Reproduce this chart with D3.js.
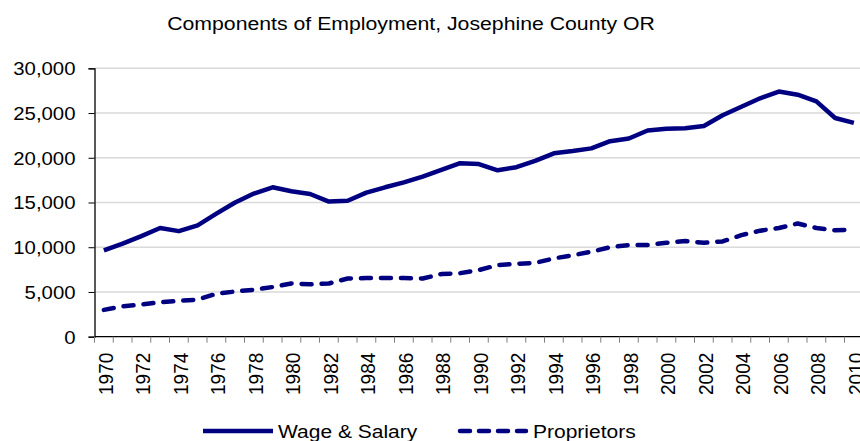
<!DOCTYPE html>
<html>
<head>
<meta charset="utf-8">
<script src="https://cdn.jsdelivr.net/npm/d3@7"></script>
<style>
  html, body { margin: 0; padding: 0; background: #fff; }
  svg { display: block; font-family: "Liberation Sans", Arial, sans-serif; }
</style>
</head>
<body>
<svg id="chart" width="860" height="441"></svg>
<script>
const title = "Components of Employment, Josephine County OR";
const years = ["1970","1971","1972","1973","1974","1975","1976","1977","1978","1979",
  "1980","1981","1982","1983","1984","1985","1986","1987","1988","1989",
  "1990","1991","1992","1993","1994","1995","1996","1997","1998","1999",
  "2000","2001","2002","2003","2004","2005","2006","2007","2008","2009","2010"];
const wageSalary = [9650, 10400, 11250, 12150, 11800, 12450, 13750, 15000, 16000, 16700,
  16250, 15950, 15100, 15200, 16100, 16700, 17250, 17900, 18650, 19400,
  19300, 18600, 18950, 19650, 20500, 20750, 21050, 21850, 22150, 23050,
  23250, 23300, 23550, 24750, 25700, 26650, 27400, 27050, 26300, 24450, 23900];
const proprietors = [3000, 3400, 3600, 3850, 4000, 4150, 4800, 5050, 5250, 5550,
  5950, 5850, 5950, 6500, 6550, 6550, 6550, 6500, 7000, 7100,
  7450, 8000, 8150, 8250, 8750, 9100, 9500, 10000, 10250, 10250,
  10500, 10700, 10500, 10650, 11350, 11850, 12150, 12650, 12150, 11900, 11950];
const yTicks = [0, 5000, 10000, 15000, 20000, 25000, 30000];
const xLabelYears = years.filter((d, i) => i % 2 === 0);
const seriesNames = ["Wage & Salary", "Proprietors"];

const svg = d3.select("#chart");
const navy = "#000080";
const mLeft = 94.5, mTop = 68.3, mBottom = 336.7, band = 18.75;

const x = d3.scaleBand().domain(years).range([mLeft, mLeft + years.length * band]);
const y = d3.scaleLinear().domain([0, 30000]).range([mBottom, mTop]);

function stretch(sel, f) {
  sel.each(function() {
    const w = this.getComputedTextLength();
    d3.select(this).attr("textLength", w * f).attr("lengthAdjust", "spacingAndGlyphs");
  });
}

// gridlines
svg.append("g").selectAll("line").data(yTicks.filter(d => d > 0)).join("line")
  .attr("x1", mLeft).attr("x2", 860)
  .attr("y1", d => y(d)).attr("y2", d => y(d))
  .attr("stroke", "#d9d9d9").attr("stroke-width", 1.5);

// y axis
const yAxis = svg.append("g").attr("transform", `translate(${mLeft},0)`)
  .call(d3.axisLeft(y).tickValues(yTicks).tickFormat(d3.format(",")).tickSize(6).tickPadding(13));
yAxis.select(".domain").attr("stroke", "#000").attr("stroke-width", 1.3);
yAxis.selectAll(".tick line").attr("stroke", "#000");
yAxis.selectAll(".tick text").attr("font-size", 18).attr("fill", "#000")
  .attr("font-family", "Liberation Sans, Arial, sans-serif")
  .attr("dy", "0.36em").call(stretch, 1.13);

// x axis: ticks at band boundaries
const xg = svg.append("g");
xg.append("line").attr("x1", mLeft).attr("x2", 860).attr("y1", mBottom).attr("y2", mBottom)
  .attr("stroke", "#000").attr("stroke-width", 1.3);
xg.selectAll("line.tk").data(years).join("line").attr("class", "tk")
  .attr("x1", d => x(d)).attr("x2", d => x(d))
  .attr("y1", mBottom).attr("y2", mBottom + 6)
  .attr("stroke", "#808080").attr("stroke-width", 1);
xg.selectAll("text").data(xLabelYears).join("text")
  .attr("transform", d => `translate(${x(d) + x.bandwidth() / 2 + 1.5},${mBottom + 16}) rotate(-90)`)
  .attr("text-anchor", "end").attr("dy", "0.36em")
  .attr("font-size", 20).attr("fill", "#000")
  .text(d => d).call(stretch, 0.95);

// lines
const line = (vals) => d3.line()
  .x((d, i) => x(years[i]) + x.bandwidth() / 2)
  .y(d => y(d))(vals);

svg.append("path").attr("d", line(wageSalary))
  .attr("fill", "none").attr("stroke", navy).attr("stroke-width", 4.5)
  .attr("stroke-linejoin", "round");
svg.append("path").attr("d", line(proprietors))
  .attr("fill", "none").attr("stroke", navy).attr("stroke-width", 4.5)
  .attr("stroke-dasharray", "10,10").attr("stroke-linecap", "round")
  .attr("stroke-linejoin", "round");

// title
svg.append("text").attr("x", 411).attr("y", 30).attr("text-anchor", "middle")
  .attr("font-size", 18).attr("fill", "#000").text(title).call(stretch, 1.18);

// legend
const lg = svg.append("g");
lg.append("line").attr("x1", 203).attr("x2", 273).attr("y1", 431).attr("y2", 431)
  .attr("stroke", navy).attr("stroke-width", 4.5);
lg.append("text").attr("x", 278).attr("y", 437.5).attr("font-size", 17.5).attr("fill", "#000")
  .text(seriesNames[0]).call(stretch, 1.2);
lg.append("line").attr("x1", 460).attr("x2", 526).attr("y1", 431).attr("y2", 431)
  .attr("stroke", navy).attr("stroke-width", 4.5)
  .attr("stroke-dasharray", "10,9").attr("stroke-linecap", "round");
lg.append("text").attr("x", 533).attr("y", 437.5).attr("font-size", 17.5).attr("fill", "#000")
  .text(seriesNames[1]).call(stretch, 1.2);
</script>
</body>
</html>
